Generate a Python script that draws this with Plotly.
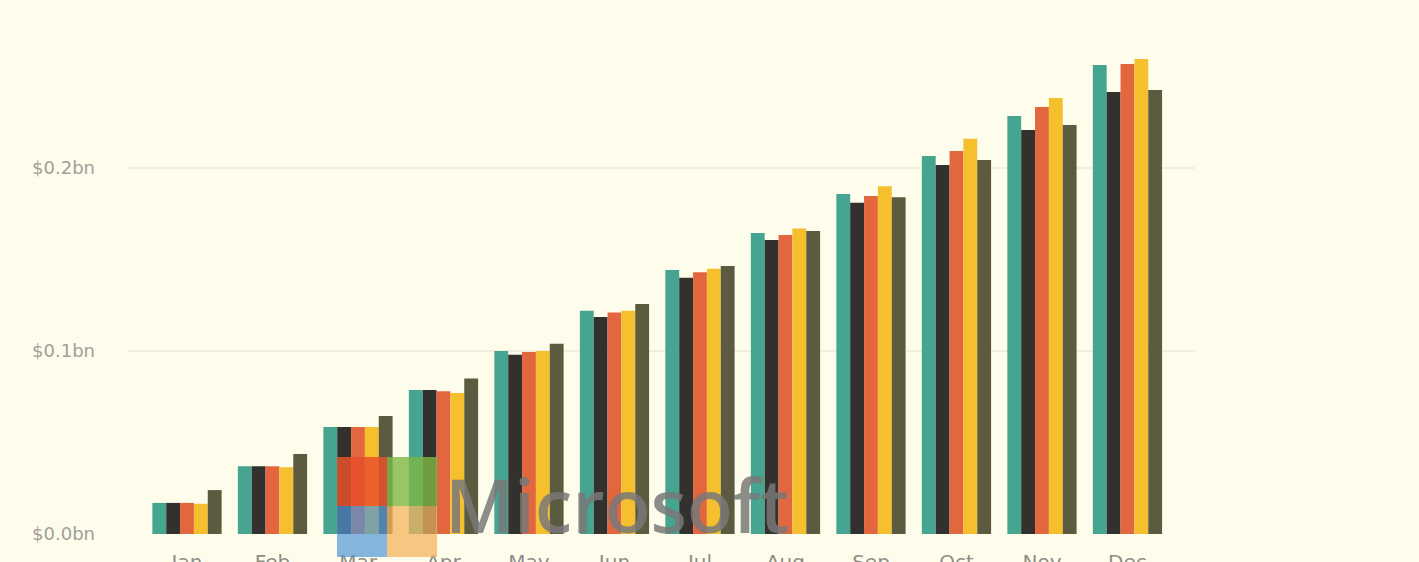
import plotly.graph_objects as go

months = ["Jan", "Feb", "Mar", "Apr", "May", "Jun", "Jul", "Aug", "Sep", "Oct", "Nov", "Dec"]
series_names = ["Series 1", "Series 2", "Series 3", "Series 4", "Series 5"]
s1 = [0.017, 0.037, 0.0585, 0.0787, 0.100, 0.122, 0.1443, 0.1645, 0.1858, 0.2066, 0.2284, 0.2563]
s2 = [0.017, 0.037, 0.0585, 0.0787, 0.098, 0.1186, 0.140, 0.1607, 0.181, 0.2016, 0.2208, 0.2415]
s3 = [0.017, 0.037, 0.0585, 0.078, 0.0995, 0.121, 0.143, 0.1634, 0.1847, 0.2093, 0.2333, 0.2568]
s4 = [0.0165, 0.0365, 0.0585, 0.077, 0.100, 0.122, 0.145, 0.167, 0.190, 0.216, 0.2383, 0.2596]
s5 = [0.024, 0.0437, 0.0645, 0.085, 0.104, 0.1257, 0.1464, 0.1656, 0.184, 0.2044, 0.2235, 0.2426]
y_ticks = [0.0, 0.1, 0.2, 0.3]
y_tick_labels = ["$0.0bn", "$0.1bn", "$0.2bn", "$0.3bn"]

colors = ["#45A590", "#33312E", "#E2673F", "#F6BF2E", "#5C5B40"]
bg = "#FEFDEC"

fig = go.Figure()
for name, vals, c in zip(series_names, [s1, s2, s3, s4, s5], colors):
    fig.add_trace(go.Bar(x=months, y=vals, name=name, marker=dict(color=c, line=dict(width=0))))

W, H = 1419, 562
L, R, T, B = 128, 224, 0, 28
pw, ph = W - L - R, H - T - B

def px(x):
    return (x - L) / pw

def py(y):
    return (H - B - y) / ph

shapes = []
squares = [
    (337, 457, 387, 506, "rgba(232,80,42,0.85)"),
    (387, 457, 437, 506, "rgba(125,184,67,0.8)"),
    (337, 506, 387, 557, "rgba(80,150,215,0.7)"),
    (387, 506, 437, 557, "rgba(244,180,95,0.75)"),
]
for x0, y0, x1, y1, c in squares:
    shapes.append(dict(type="rect", xref="paper", yref="paper", x0=px(x0), x1=px(x1),
                       y0=py(y1), y1=py(y0), fillcolor=c, line=dict(width=0), layer="above"))

fig.update_layout(
    width=W, height=H,
    margin=dict(l=L, r=R, t=T, b=B, autoexpand=False),
    paper_bgcolor=bg, plot_bgcolor=bg,
    barmode="group", bargap=0.19, bargroupgap=0,
    showlegend=False,
    shapes=shapes,
    annotations=[dict(text="Microsoft", xref="paper", yref="paper", x=px(443), y=py(557),
                      xanchor="left", yanchor="bottom", showarrow=False,
                      font=dict(family="Open Sans", size=75, color="rgba(120,120,120,0.85)", weight=600))],
    font=dict(family="DejaVu Sans", color="#9A9A90"),
)
fig.update_xaxes(range=[-0.69, 11.79], showgrid=False, showline=False, zeroline=False, automargin=False,
                 ticks="", tickfont=dict(family="DejaVu Sans", size=20, color="#8E8E88"),
                 ticklabelstandoff=14)
fig.update_yaxes(range=[0, 0.2918], tickvals=y_ticks, ticktext=y_tick_labels, automargin=False,
                 showgrid=True, gridcolor="#F1EFDC", gridwidth=2, zeroline=False, showline=False,
                 ticks="", tickfont=dict(family="DejaVu Sans", size=18, color="#A0A098"),
                 ticklabelstandoff=32)

fig.write_html("out.html")
